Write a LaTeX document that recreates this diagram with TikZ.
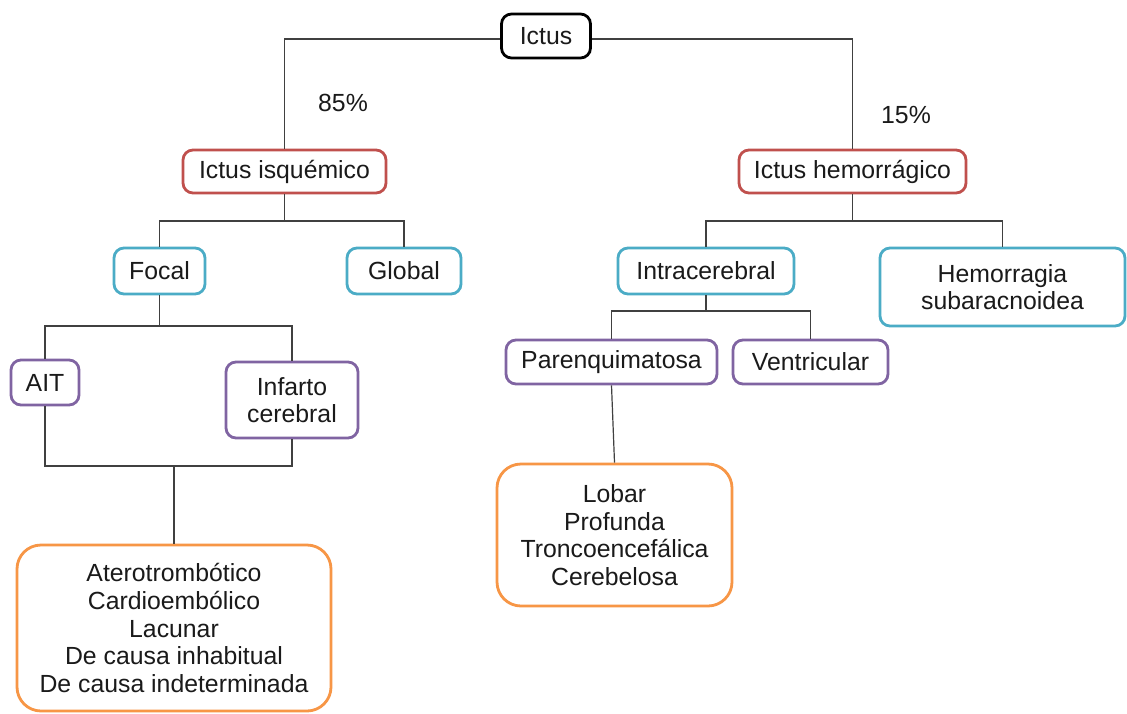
\documentclass[tikz,border=0pt]{standalone}
\usepackage{fontspec}
\setmainfont{Liberation Sans}
\definecolor{cred}{HTML}{C0504D}
\definecolor{cblue}{HTML}{4BACC6}
\definecolor{cpurple}{HTML}{8064A2}
\definecolor{corange}{HTML}{F79646}
\definecolor{cline}{HTML}{404040}
\definecolor{ctext}{HTML}{1A1A1A}
\tikzset{
  box/.style={draw, line width=1.4pt, rounded corners=5pt, fill=white, align=center,
    inner sep=0pt, text=ctext, font=\fontsize{12.4}{13.8}\selectfont},
  rootbox/.style={box, draw=black},
  redbox/.style={box, draw=cred},
  bluebox/.style={box, draw=cblue},
  purplebox/.style={box, draw=cpurple},
  orangebox/.style={box, draw=corange, rounded corners=12pt},
  conn/.style={draw=cline, line width=0.6pt},
  pct/.style={text=ctext, font=\fontsize{12.4}{13.8}\selectfont, inner sep=0pt}
}
\begin{document}
\begin{tikzpicture}[x=0.5pt,y=-0.5pt]
\useasboundingbox[fill=white] (0,0) rectangle (1127,713);
% nodes
\node[rootbox, minimum width=44.5pt, minimum height=22pt] (ictus) at (546,36) {Ictus};
\node[redbox, minimum width=101.5pt, minimum height=21.5pt] (isq) at (284.5,171.5) {Ictus isquémico};
\node[redbox, minimum width=113.5pt, minimum height=21.5pt] (hem) at (852.5,171.5) {Ictus hemorrágico};
\node[bluebox, minimum width=45.5pt, minimum height=23pt] (focal) at (159.5,271) {Focal};
\node[bluebox, minimum width=57pt, minimum height=23pt] (global) at (404,271) {Global};
\node[bluebox, minimum width=88pt, minimum height=23pt] (intra) at (706,271) {Intracerebral};
\node[bluebox, minimum width=122.5pt, minimum height=39pt] (sub) at (1002.5,287) {Hemorragia\\subaracnoidea};
\node[purplebox, minimum width=34pt, minimum height=22.5pt] (ait) at (45,382.5) {AIT};
\node[purplebox, minimum width=66pt, minimum height=38pt] (inf) at (292,400) {Infarto\\cerebral};
\node[purplebox, minimum width=105.5pt, minimum height=22pt] (par) at (611.5,362) {Parenquimatosa};
\node[purplebox, minimum width=77.5pt, minimum height=22pt] (ven) at (810.5,362) {Ventricular};
\node[orangebox, minimum width=157pt, minimum height=83pt] (or1) at (174,628) {Aterotrombótico\\Cardioembólico\\Lacunar\\De causa inhabitual\\De causa indeterminada};
\node[orangebox, minimum width=117.5pt, minimum height=71pt] (or2) at (614.5,535) {Lobar\\Profunda\\Troncoencefálica\\Cerebelosa};
% labels
\node[pct] (p85) at (343,103) {85\%};
\node[pct] (p15) at (906,115) {15\%};
% junctions
\coordinate (j0l) at (ictus.west |- 0,39);
\coordinate (j0r) at (ictus.east |- 0,39);
\coordinate (j1) at (isq.south |- 0,221);
\coordinate (j2) at (hem.south |- 0,221);
\coordinate (j3) at (focal.south |- 0,326);
\coordinate (j4) at (174,466);
\coordinate (j5) at (intra.south |- 0,311);
% connectors
\draw[conn] (j0l) -| (isq.north);
\draw[conn] (j0r) -| (hem.north);
\draw[conn] (isq.south) -- (j1);
\draw[conn] (focal.north) |- (j1) -| (global.north);
\draw[conn] (hem.south) -- (j2);
\draw[conn] (intra.north) |- (j2) -| (sub.north);
\draw[conn] (focal.south) -- (j3);
\draw[conn] (ait.north) |- (j3) -| (inf.north);
\draw[conn] (ait.south) |- (j4) -| (inf.south);
\draw[conn] (j4) -- (or1.north);
\draw[conn] (intra.south) -- (j5);
\draw[conn] (par.north) |- (j5) -| (ven.north);
\draw[conn] (par.south) -- (or2.north);
\end{tikzpicture}
\end{document}
